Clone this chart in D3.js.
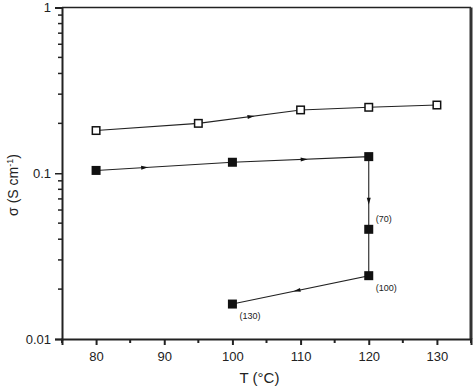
<!DOCTYPE html>
<html>
<head>
<meta charset="utf-8">
<script src="https://cdn.jsdelivr.net/npm/d3@7"></script>
<style>
  body { margin: 0; background: #fff; }
  text { font-family: "Liberation Sans", Arial, sans-serif; fill: #222; }
</style>
</head>
<body>
<div id="chart"></div>
<script>
// data
var openT = [80, 95, 110, 120, 130];
var openSigma = [0.181, 0.200, 0.241, 0.250, 0.258];

var filledT = [80, 100, 120, 120, 120, 100];
var filledSigma = [0.104, 0.1165, 0.126, 0.0459, 0.0241, 0.01625];
var filledNotes = ["", "", "", "(70)", "(100)", "(130)"];

// arrows: segment index + fraction along it
var openArrows = [{seg: 1, t: 0.52}];
var filledArrows = [{seg: 0, t: 0.36}, {seg: 1, t: 0.53}, {seg: 2, t: 0.62}, {seg: 4, t: 0.53}];

var xTicks = [80, 90, 100, 110, 120, 130];
var yTicks = [0.01, 0.1, 1];

var svgWidth = 474;
var svgHeight = 386;
var margin = {top: 7.5, right: 3, bottom: 47, left: 62};
var width = svgWidth - margin.left - margin.right;
var height = svgHeight - margin.top - margin.bottom;

var svg = d3.select("#chart")
    .append("svg")
    .attr("width", svgWidth)
    .attr("height", svgHeight);

var chartGroup = svg.append("g")
    .attr("transform", `translate(${margin.left}, ${margin.top})`);

var xScale = d3.scaleLinear().domain([75, 135]).range([0, width]);
var yScale = d3.scaleLog().domain([0.01, 1]).range([height, 0]);

// minor ticks
var xMinor = d3.range(75, 136, 5).filter(v => xTicks.indexOf(v) < 0);
var yMinor = [];
[0.01, 0.1].forEach(function(dec) {
    for (var k = 2; k <= 9; k++) yMinor.push(dec * k);
});

// frame: top and right
chartGroup.append("line")
    .attr("x1", 0).attr("x2", width).attr("y1", 0).attr("y2", 0)
    .attr("stroke", "#222").attr("stroke-width", 1.5);
chartGroup.append("line")
    .attr("x1", width).attr("x2", width).attr("y1", 0).attr("y2", height)
    .attr("stroke", "#333").attr("stroke-width", 3);

// bottom axis
var bottomAxis = d3.axisBottom(xScale).tickValues(xTicks).tickSize(6).tickPadding(7);
var xAxis = chartGroup.append("g")
    .attr("transform", `translate(0, ${height})`)
    .call(bottomAxis);
xAxis.select(".domain").attr("stroke", "#222").attr("stroke-width", 2);
xAxis.selectAll(".tick line").attr("stroke", "#222").attr("stroke-width", 2);
xAxis.selectAll("text").style("font-size", "13px").attr("fill", "#222");
xAxis.selectAll(".minor")
    .data(xMinor)
    .enter()
    .append("line")
    .attr("x1", d => xScale(d)).attr("x2", d => xScale(d))
    .attr("y1", 0).attr("y2", 4)
    .attr("stroke", "#222").attr("stroke-width", 2);

// left axis
var leftAxis = d3.axisLeft(yScale).tickValues(yTicks).tickSize(7).tickPadding(4)
    .tickFormat(d => d === 1 ? "1" : String(d));
var yAxis = chartGroup.append("g").call(leftAxis);
yAxis.select(".domain").attr("stroke", "#222").attr("stroke-width", 2);
yAxis.selectAll(".tick line").attr("stroke", "#222").attr("stroke-width", 1.5);
yAxis.selectAll("text").style("font-size", "13px").attr("fill", "#222");
yAxis.selectAll(".minor")
    .data(yMinor)
    .enter()
    .append("line")
    .attr("x1", -4).attr("x2", 0)
    .attr("y1", d => yScale(d)).attr("y2", d => yScale(d))
    .attr("stroke", "#222").attr("stroke-width", 1.5);

// axis labels
svg.append("text")
    .attr("x", margin.left + width / 2 - 7)
    .attr("y", 383)
    .attr("text-anchor", "middle")
    .style("font-size", "15px")
    .text("T (°C)");

var yLabel = svg.append("text")
    .attr("transform", "translate(18, 185) rotate(-90)")
    .attr("text-anchor", "middle")
    .style("font-size", "14px");
yLabel.append("tspan").text("σ (S cm");
yLabel.append("tspan").attr("dy", -5).style("font-size", "9px").text("-1");
yLabel.append("tspan").attr("dy", 5).text(")");

// lines
var line = d3.line().x(d => xScale(d[0])).y(d => yScale(d[1]));
var openData = openT.map((t, i) => [t, openSigma[i]]);
var filledData = filledT.map((t, i) => [t, filledSigma[i]]);

chartGroup.append("path").datum(openData)
    .attr("d", line).attr("fill", "none").attr("stroke", "#222").attr("stroke-width", 1.1);
chartGroup.append("path").datum(filledData)
    .attr("d", line).attr("fill", "none").attr("stroke", "#222").attr("stroke-width", 1.1);

// arrow heads
function drawArrows(data, arrows) {
    arrows.forEach(function(a) {
        var p0 = data[a.seg], p1 = data[a.seg + 1];
        var x0 = xScale(p0[0]), y0 = yScale(p0[1]);
        var x1 = xScale(p1[0]), y1 = yScale(p1[1]);
        var x = x0 + (x1 - x0) * a.t, y = y0 + (y1 - y0) * a.t;
        var ang = Math.atan2(y1 - y0, x1 - x0) * 180 / Math.PI;
        chartGroup.append("path")
            .attr("d", "M3,0 L-4,-2 L-4,2 Z")
            .attr("transform", `translate(${x}, ${y}) rotate(${ang})`)
            .attr("fill", "#111");
    });
}
drawArrows(openData, openArrows);
drawArrows(filledData, filledArrows);

// markers
var s = 9;
chartGroup.selectAll(".open")
    .data(openData)
    .enter()
    .append("rect")
    .attr("x", d => xScale(d[0]) - s / 2 + 0.75)
    .attr("y", d => yScale(d[1]) - s / 2 + 0.75)
    .attr("width", s - 1.5).attr("height", s - 1.5)
    .attr("fill", "#fff").attr("stroke", "#111").attr("stroke-width", 1.5);

chartGroup.selectAll(".filled")
    .data(filledData)
    .enter()
    .append("rect")
    .attr("x", d => xScale(d[0]) - s / 2)
    .attr("y", d => yScale(d[1]) - s / 2)
    .attr("width", s).attr("height", s)
    .attr("fill", "#111");

// time notes
chartGroup.selectAll(".note")
    .data(filledData)
    .enter()
    .append("text")
    .attr("x", d => xScale(d[0]) + 7)
    .attr("y", (d, i) => yScale(d[1]) + (i === 3 ? -7 : 15))
    .style("font-size", "9px")
    .text((d, i) => filledNotes[i]);
</script>
</body>
</html>
